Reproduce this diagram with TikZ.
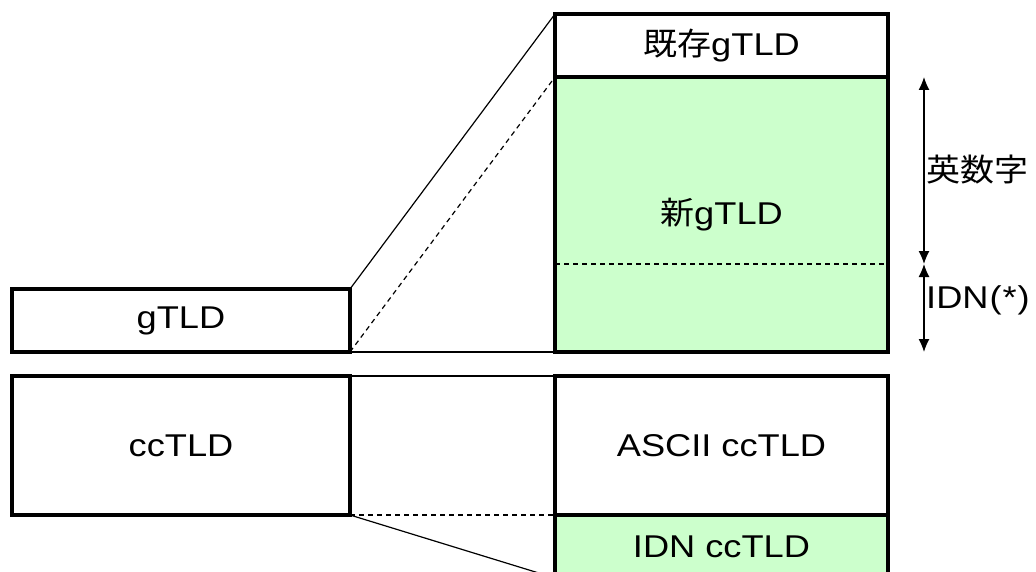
\documentclass[tikz,border=0pt]{standalone}
\usepackage{fontspec}
\setmainfont[FakeStretch=1.15]{Liberation Sans}
\newfontfamily\jp[FakeStretch=1.08]{Noto Sans CJK JP}
\usetikzlibrary{arrows.meta}
\definecolor{lightgreen}{RGB}{204,255,204}
\tikzset{
  tldbox/.style={draw,line width=4pt,outer sep=0pt,inner sep=0pt,minimum width=338pt,font=\fontsize{31.5}{36}\selectfont},
  zoomline/.style={line width=1.2pt},
  dashline/.style={line width=1.2pt,dash pattern=on 5pt off 4pt},
  rangearrow/.style={line width=1.2pt,{Latex[length=13pt,width=11pt]}-{Latex[length=13pt,width=11pt]}},
  sidelabel/.style={anchor=west,inner sep=2pt,font=\fontsize{31.5}{36}\selectfont}
}
\begin{document}
\begin{tikzpicture}[x=1pt,y=-1pt]

\def\NEWCOLOR{lightgreen}
\def\OLDCOLOR{white}
	\useasboundingbox (0,0) rectangle (1036,572);
	\clip (0,0) rectangle (1036,572);
	\node[tldbox,minimum height=63pt] (gtld) at (181,320.5) {gTLD};
	\node[tldbox,minimum height=139pt] (cctld) at (181,445.5) {ccTLD};
	\node[tldbox,fill=\NEWCOLOR,minimum width=333pt,minimum height=275pt] (newg) at (721.5,214.5) {{\jp 新}gTLD};
	\node[tldbox,fill=\OLDCOLOR,minimum width=333pt,minimum height=63pt] (oldg) at (721.5,45.5) {{\jp 既存}gTLD};
	\node[tldbox,fill=\NEWCOLOR,minimum width=333pt,minimum height=63pt] (idncc) at (721.5,546.5) {IDN ccTLD};
	\node[tldbox,minimum width=333pt,minimum height=139pt] (ascii) at (721.5,445.5) {ASCII ccTLD};
	\coordinate (sep) at (0,264);
	\draw[dashline] (newg.west |- sep) -- (newg.east |- sep);
	\draw[zoomline] (gtld.north east) -- (oldg.north west);
	\draw[dashline] (gtld.south east) -- (newg.north west);
	\draw[zoomline] (gtld.south east) -- (newg.south west);
	\draw[zoomline] (cctld.north east) -- (ascii.north west);
	\draw[dashline] (cctld.south east) -- (ascii.south west);
	\draw[zoomline] (cctld.south east) -- (idncc.south west);
	\coordinate (atop) at (924,77);
	\coordinate (amid) at (924,264);
	\coordinate (abot) at (924,352);
	\draw[rangearrow] (atop) -- (amid);
	\draw[rangearrow] (amid) -- (abot);
	\node[sidelabel] (alnum) at (924,170) {\jp 英数字};
	\node[sidelabel] (idn) at (924,300) {IDN\kern1pt(\kern1pt*\kern1pt)};

\end{tikzpicture}
\end{document}
